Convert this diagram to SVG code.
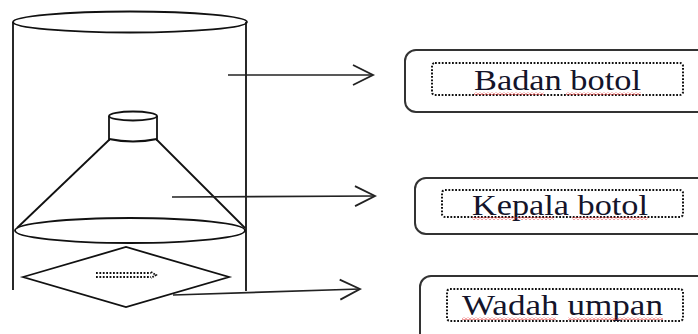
<svg xmlns="http://www.w3.org/2000/svg" width="698" height="334" viewBox="0 0 698 334">
  <style>
    .ln { fill: none; stroke: #111; stroke-width: 1.8; }
    .cn { fill: none; stroke: #222; stroke-width: 1.6; }
    .box { fill: #fff; stroke: #333; stroke-width: 2; }
    .dot { fill: none; stroke: #111; stroke-width: 2; stroke-dasharray: 1.8 1.6; }
    .lbl { font-family: "Liberation Serif", "Times New Roman", serif; font-size: 29px; fill: #14142a; }
    .sp { fill: url(#squiggle); }
  </style>
  <defs>
    <marker id="head" markerUnits="userSpaceOnUse" markerWidth="24" markerHeight="24" refX="20" refY="10" orient="auto" overflow="visible">
      <path d="M0,0 L20,10 L0,20" fill="none" stroke="#222" stroke-width="1.8"/>
    </marker>
    <pattern id="squiggle" patternUnits="userSpaceOnUse" width="4" height="3">
      <polyline points="0,2.5 2,0.5 4,2.5" fill="none" stroke="#e02020" stroke-width="0.9"/>
    </pattern>
  </defs>

  <!-- bottle trap drawing -->
  <g id="botol">
    <ellipse class="ln" cx="130" cy="22" rx="117" ry="10.5"/>
    <line class="ln" x1="13" y1="22" x2="13" y2="290"/>
    <line class="ln" x1="246" y1="22" x2="246" y2="291"/>
    <!-- neck -->
    <ellipse class="ln" cx="133" cy="116" rx="24" ry="4.5"/>
    <line class="ln" x1="109" y1="116" x2="109" y2="141"/>
    <line class="ln" x1="157" y1="116" x2="157" y2="141"/>
    <path class="ln" d="M109,139 Q133,144 157,139"/>
    <!-- cone -->
    <line class="ln" x1="109" y1="140" x2="17" y2="228"/>
    <line class="ln" x1="157" y1="140" x2="245" y2="228"/>
    <ellipse class="ln" cx="130" cy="230.5" rx="115" ry="12.5"/>
    <!-- bait holder -->
    <polygon class="ln" points="23,277 126,247 229,277 126,307"/>
    <path class="dot" d="M96,273 H151 M96,277 H151"/>
    <path d="M151,272 L156,275 L151,278" fill="none" stroke="#111" stroke-width="1.8" stroke-dasharray="1.6 1.2"/>
  </g>

  <!-- connectors -->
  <g id="connectors">
    <line class="cn" x1="228" y1="75" x2="373" y2="75" marker-end="url(#head)"/>
    <line class="cn" x1="172" y1="197" x2="375" y2="196" marker-end="url(#head)"/>
    <line class="cn" x1="173" y1="295" x2="360" y2="289" marker-end="url(#head)"/>
  </g>

  <g id="badan-botol">
    <rect class="box" x="405" y="50" width="310" height="62" rx="11"/>
    <rect class="dot" x="432" y="63" width="251" height="32" rx="3"/>
    <text class="lbl" x="474" y="90" textLength="167" lengthAdjust="spacingAndGlyphs">Badan botol</text>
    <rect class="sp" x="474" y="92" width="70" height="3"/>
    <rect class="sp" x="566" y="92" width="75" height="3"/>
  </g>

  <g id="kepala-botol">
    <rect class="box" x="415" y="178" width="300" height="56" rx="11"/>
    <rect class="dot" x="442" y="190" width="241" height="27" rx="3"/>
    <text class="lbl" x="472" y="215" textLength="176" lengthAdjust="spacingAndGlyphs">Kepala botol</text>
    <rect class="sp" x="472" y="217" width="82" height="3"/>
    <rect class="sp" x="572" y="217" width="76" height="3"/>
  </g>

  <g id="wadah-umpan">
    <rect class="box" x="420" y="276" width="300" height="80" rx="11"/>
    <rect class="dot" x="447" y="289" width="236" height="32" rx="3"/>
    <text class="lbl" x="462" y="315" textLength="201" lengthAdjust="spacingAndGlyphs">Wadah umpan</text>
    <rect class="sp" x="462" y="317" width="94" height="3"/>
    <rect class="sp" x="568" y="317" width="95" height="3"/>
  </g>
</svg>
